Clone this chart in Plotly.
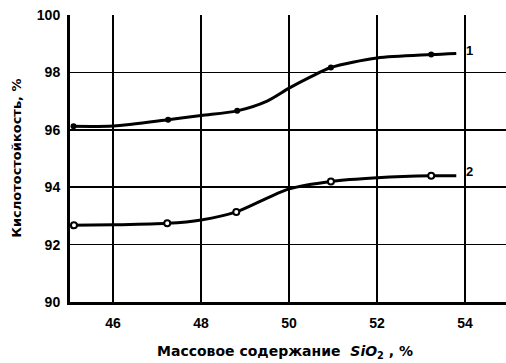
import plotly.graph_objects as go

# Measured points (markers)
x_pts1 = [45.1, 47.25, 48.82, 50.95, 53.23]
y_pts1 = [96.12, 96.35, 96.66, 98.17, 98.62]
x_pts2 = [45.11, 47.23, 48.8, 50.95, 53.23]
y_pts2 = [92.67, 92.74, 93.14, 94.2, 94.4]

# Traced smooth curves
x_curve1 = [45.05, 46.0, 47.25, 48.0, 48.82, 49.5, 50.0, 50.5, 50.95, 52.0, 53.23, 53.8]
y_curve1 = [96.12, 96.13, 96.35, 96.5, 96.66, 97.0, 97.45, 97.85, 98.17, 98.5, 98.62, 98.66]
x_curve2 = [45.05, 46.0, 47.23, 48.0, 48.8, 49.5, 50.0, 50.95, 52.0, 53.23, 53.8]
y_curve2 = [92.67, 92.69, 92.74, 92.86, 93.14, 93.62, 93.94, 94.2, 94.33, 94.4, 94.4]

curve_labels = ["1", "2"]
label_y = [98.75, 94.55]

x_ticks = [46, 48, 50, 52, 54]
y_ticks = [90, 92, 94, 96, 98, 100]

FONT = "Liberation Sans"
TFONT = "DejaVu Sans"

fig = go.Figure()
fig.add_trace(go.Scatter(x=x_curve1, y=y_curve1, mode="lines",
                         line=dict(color="black", width=3, shape="spline", smoothing=0.8),
                         hoverinfo="skip", showlegend=False))
fig.add_trace(go.Scatter(x=x_curve2, y=y_curve2, mode="lines",
                         line=dict(color="black", width=3, shape="spline", smoothing=0.8),
                         hoverinfo="skip", showlegend=False))
fig.add_trace(go.Scatter(x=x_pts1, y=y_pts1, mode="markers",
                         marker=dict(color="black", size=6, symbol="circle"),
                         showlegend=False))
fig.add_trace(go.Scatter(x=x_pts2, y=y_pts2, mode="markers",
                         marker=dict(color="white", size=6, symbol="circle",
                                     line=dict(color="black", width=2)),
                         showlegend=False))

for lab, ly in zip(curve_labels, label_y):
    fig.add_annotation(x=53.98, y=ly, text="<b>" + lab + "</b>", showarrow=False,
                       xanchor="left", yanchor="middle",
                       font=dict(family=FONT, size=13, color="black"))

# Axis titles as annotations for exact placement
fig.add_annotation(xref="paper", yref="paper", x=0.493, y=-0.174,
                   text="<b>Массовое содержание  <i>SiO</i><sub>2</sub> , %</b>",
                   showarrow=False, xanchor="center", yanchor="middle",
                   font=dict(family=TFONT, size=14, color="black"))
fig.add_annotation(xref="paper", yref="paper", x=-0.122, y=0.502,
                   text="<b>Кислотостойкость, %</b>", textangle=-90,
                   showarrow=False, xanchor="center", yanchor="middle",
                   font=dict(family=TFONT, size=13, color="black"))

fig.update_xaxes(range=[45.02, 54.93], tickvals=x_ticks,
                 ticktext=["<b>%d</b>" % v for v in x_ticks],
                 showgrid=True, gridcolor="black", gridwidth=1.5,
                 showline=True, linecolor="black", linewidth=3,
                 ticks="", ticklabelstandoff=6, zeroline=False, automargin=False,
                 tickfont=dict(family=FONT, size=14, color="black"))
fig.update_yaxes(range=[90, 100], tickvals=y_ticks,
                 ticktext=["<b>%d</b>" % v for v in y_ticks],
                 showgrid=True, gridcolor="black", gridwidth=1.5,
                 showline=True, linecolor="black", linewidth=3,
                 ticks="", ticklabelstandoff=4, zeroline=False, automargin=False,
                 tickfont=dict(family=FONT, size=14, color="black"))

fig.update_layout(width=506, height=363,
                  margin=dict(l=70, r=0, t=15, b=61),
                  paper_bgcolor="white", plot_bgcolor="white",
                  showlegend=False)

fig.write_html("out.html", config={"displayModeBar": False, "staticPlot": True})

# remove the default page margin so the figure sits at the window's top-left corner
with open("out.html", "r", encoding="utf-8") as f:
    html = f.read()
html = html.replace("<body>", '<body style="margin:0;padding:0;overflow:hidden">', 1)
with open("out.html", "w", encoding="utf-8") as f:
    f.write(html)
